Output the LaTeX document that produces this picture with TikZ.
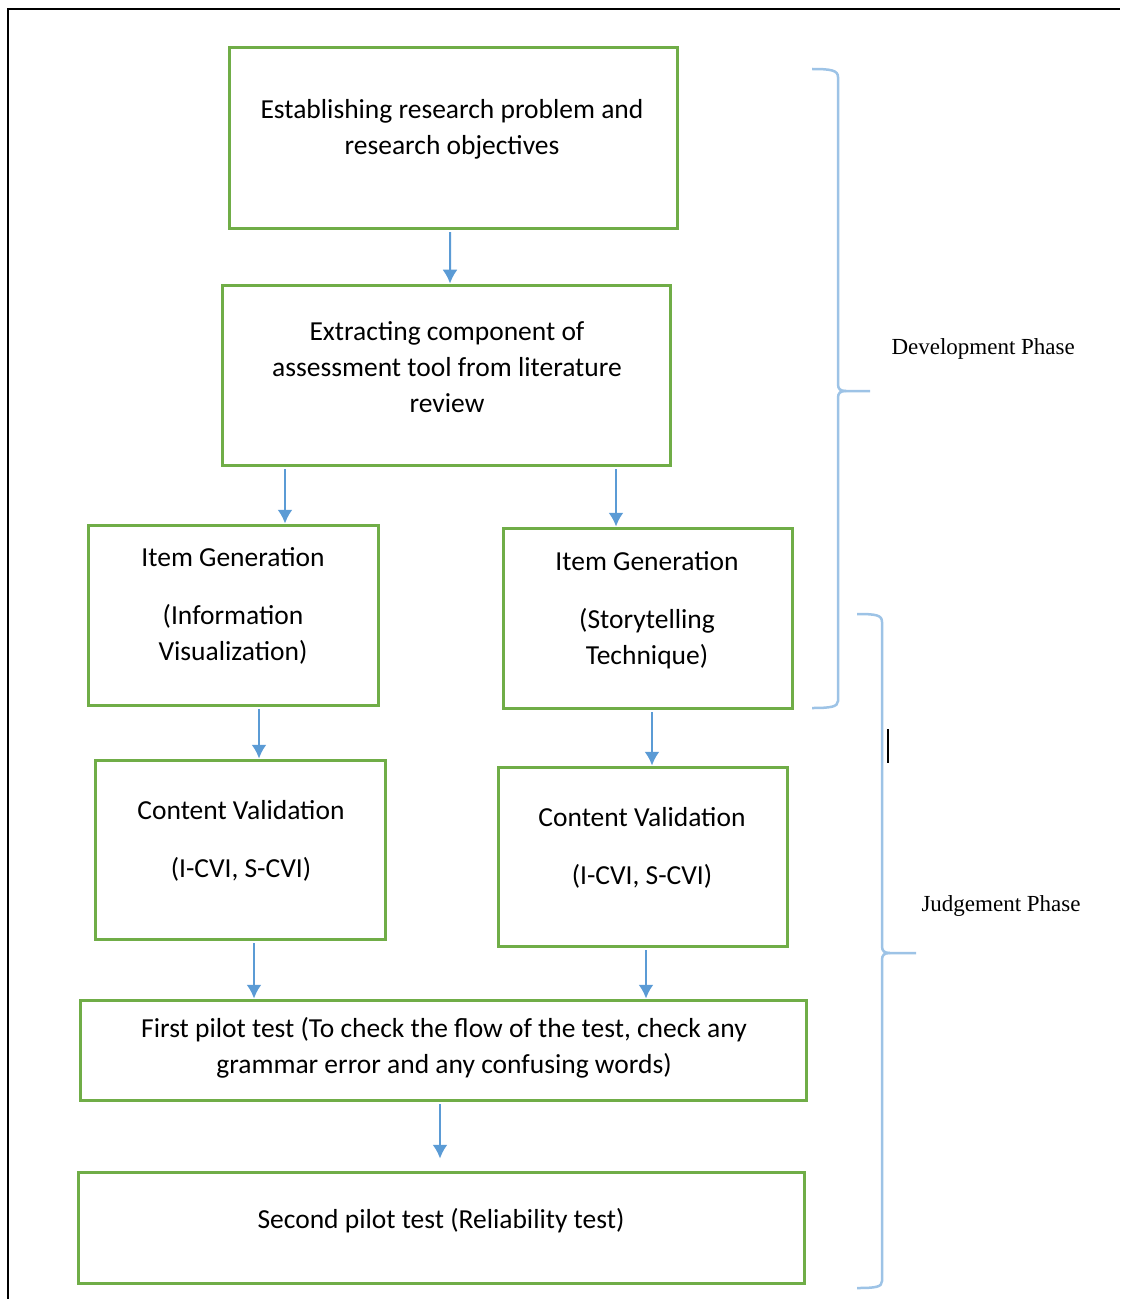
\documentclass[tikz,border=0pt]{standalone}
\usepackage{fontspec}
\setmainfont{Carlito}
\newfontfamily\phasefont{Liberation Serif}
\usetikzlibrary{arrows.meta}

\definecolor{boxgreen}{HTML}{70AD47}
\definecolor{arrowblue}{HTML}{5B9BD5}
\definecolor{braceblue}{HTML}{9DC3E6}

\begin{document}
\begin{tikzpicture}[x=0.4pt,y=-0.4pt,
	box/.style={draw=boxgreen, line width=1.2pt, inner sep=0pt},
	txt/.style={align=center, inner sep=0pt, font=\fontsize{11}{14.4}\selectfont},
	flow/.style={draw=arrowblue, line width=0.8pt, -{Latex[length=5.5pt,width=6pt]}, shorten <=1pt},
	phase/.style={draw=braceblue, line width=1pt},
	phaselabel/.style={anchor=west, inner sep=0pt, font=\phasefont\fontsize{9.2}{11}\selectfont}
	]
	\useasboundingbox (0,0) rectangle (1120,1299);
	\draw[line width=1.1pt] (8,1299) -- (8,9) -- (1120,9);
	
	% boxes
	\node[box, minimum width=178.8pt, minimum height=72pt] (establish) at (453.5,138) {};
	\node[box, minimum width=178.8pt, minimum height=72pt] (extract) at (446.5,375) {};
	\node[box, minimum width=115.6pt, minimum height=72pt] (infovis) at (233.5,615) {};
	\node[box, minimum width=115.6pt, minimum height=72pt] (story) at (647.5,618) {};
	\node[box, minimum width=115.6pt, minimum height=71.6pt] (validleft) at (240.5,849.5) {};
	\node[box, minimum width=115.6pt, minimum height=71.6pt] (validright) at (642.5,856.5) {};
	\node[box, minimum width=290pt, minimum height=40pt] (pilotone) at (443.5,1050) {};
	\node[box, minimum width=290pt, minimum height=44.4pt] (pilottwo) at (441.5,1227.5) {};
	
	% texts
	\node[txt] (establishtxt) at (452,129) {Establishing research problem and\\research objectives};
	\node[txt] (extracttxt) at (447,367) {Extracting component of\\assessment tool from literature\\review};
	\node[txt] (infovistxt) at (233,606) {Item Generation\\[9pt](Information\\Visualization)};
	\node[txt] (storytxt) at (647,610) {Item Generation\\[9pt](Storytelling\\Technique)};
	\node[txt] (validlefttxt) at (241,841) {Content Validation\\[9pt](I-CVI, S-CVI)};
	\node[txt] (validrighttxt) at (642,848) {Content Validation\\[9pt](I-CVI, S-CVI)};
	\node[txt] (pilotonetxt) at (444,1048) {First pilot test (To check the flow of the test, check any\\grammar error and any confusing words)};
	\node[txt] (pilottwotxt) at (441,1221) {Second pilot test (Reliability test)};
	
	% arrows
	\draw[flow] ([xshift=-1.4pt]establish.south) -- ([xshift=1.4pt]extract.north);
	\draw[flow] ([xshift=-64.6pt]extract.south) -- ([xshift=-64.6pt]extract.south |- infovis.north);
	\draw[flow] ([xshift=67.8pt]extract.south) -- ([xshift=67.8pt]extract.south |- story.north);
	\draw[flow] ([xshift=10.2pt]infovis.south) -- ([xshift=10.2pt]infovis.south |- validleft.north);
	\draw[flow] ([xshift=1.8pt]story.south) -- ([xshift=1.8pt]story.south |- validright.north);
	\draw[flow] ([xshift=5.4pt]validleft.south) -- ([xshift=5.4pt]validleft.south |- pilotone.north);
	\draw[flow] ([xshift=1.4pt]validright.south) -- ([xshift=1.4pt]validright.south |- pilotone.north);
	\draw[flow, shorten >=4.8pt] ([xshift=-1.4pt]pilotone.south) -- ([xshift=-1.4pt]pilotone.south |- pilottwo.north);
	
	% phase braces
	\draw[phase] (812,69) .. controls (830,69) and (838,70) .. (838,77) -- (838,384) .. controls (838,389) and (840,391) .. (846,391) -- (870,391);
	\draw[phase] (846,391) .. controls (840,391) and (838,393) .. (838,398) -- (838,701) .. controls (838,707) and (830,708) .. (812,708);
	\node[phaselabel] (develop) at (891,349) {Development Phase};
	
	\draw[phase] (857,614) .. controls (876,614) and (882,615) .. (882,622) -- (882,946) .. controls (882,951) and (884,953) .. (890,953) -- (916,953);
	\draw[phase] (890,953) .. controls (884,953) and (882,955) .. (882,960) -- (882,1281) .. controls (882,1287) and (876,1288) .. (857,1288);
	\node[phaselabel] (judge) at (921,906) {Judgement Phase};
	
	\draw[line width=0.8pt] (888,729) -- (888,763);
\end{tikzpicture}
\end{document}
